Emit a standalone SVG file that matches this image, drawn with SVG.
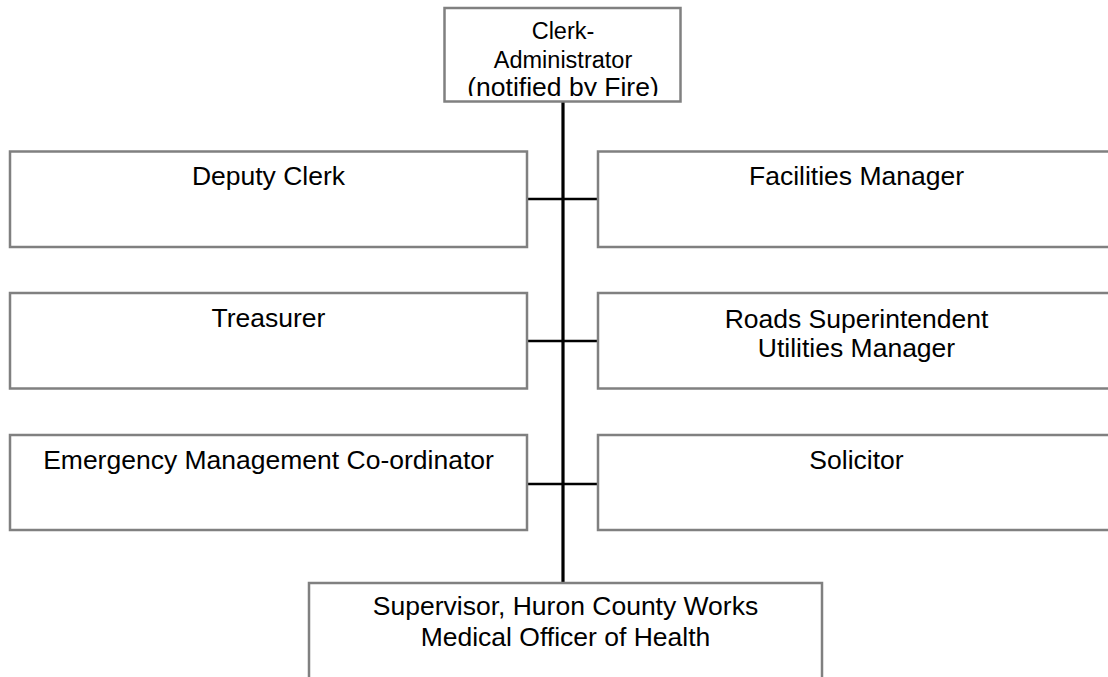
<svg xmlns="http://www.w3.org/2000/svg" width="1108" height="677" viewBox="0 0 1108 677">
<style>
.box{fill:#fff;stroke:#808080;stroke-width:2.5}
.t{font-family:"Liberation Sans",Arial,sans-serif;font-size:26.5px;fill:#000;text-anchor:middle}
.ts{font-size:23.5px}
.ln{stroke:#000;fill:none}
</style>
<defs>
<clipPath id="topclip"><rect x="444" y="7" width="237" height="89"/></clipPath>
</defs>
<rect width="1108" height="677" fill="#fff"/>
<g id="connectors">
<line class="ln" x1="563" y1="102" x2="563" y2="583" stroke-width="3.2"/>
<line class="ln" x1="527" y1="199" x2="598" y2="199" stroke-width="2.4"/>
<line class="ln" x1="527" y1="341" x2="598" y2="341" stroke-width="2.4"/>
<line class="ln" x1="527" y1="484" x2="598" y2="484" stroke-width="2.4"/>
</g>
<g id="clerk-administrator">
<rect class="box" x="444.5" y="8" width="236" height="93.5"/>
<g clip-path="url(#topclip)">
<text class="t ts" x="563" y="39">Clerk-</text>
<text class="t ts" x="563" y="68">Administrator</text>
<text class="t" x="563" y="96">(notified by Fire)</text>
</g>
</g>
<g id="deputy-clerk">
<rect class="box" x="10" y="151.5" width="517" height="95.5"/>
<text class="t" x="268.5" y="185">Deputy Clerk</text>
</g>
<g id="facilities-manager">
<rect class="box" x="598" y="151.5" width="520" height="95.5"/>
<text class="t" x="856.5" y="185">Facilities Manager</text>
</g>
<g id="treasurer">
<rect class="box" x="10" y="293" width="517" height="95.5"/>
<text class="t" x="268.5" y="327">Treasurer</text>
</g>
<g id="roads-superintendent">
<rect class="box" x="598" y="293" width="520" height="95.5"/>
<text class="t" x="856.5" y="328">Roads Superintendent</text>
<text class="t" x="856.5" y="357">Utilities Manager</text>
</g>
<g id="emergency-management">
<rect class="box" x="10" y="435" width="517" height="95"/>
<text class="t" x="268.5" y="469">Emergency Management Co-ordinator</text>
</g>
<g id="solicitor">
<rect class="box" x="598" y="435" width="520" height="95"/>
<text class="t" x="856.5" y="469">Solicitor</text>
</g>
<g id="supervisor">
<rect class="box" x="309" y="583" width="513" height="110"/>
<text class="t" x="565.5" y="615">Supervisor, Huron County Works</text>
<text class="t" x="565.5" y="646">Medical Officer of Health</text>
</g>
</svg>
